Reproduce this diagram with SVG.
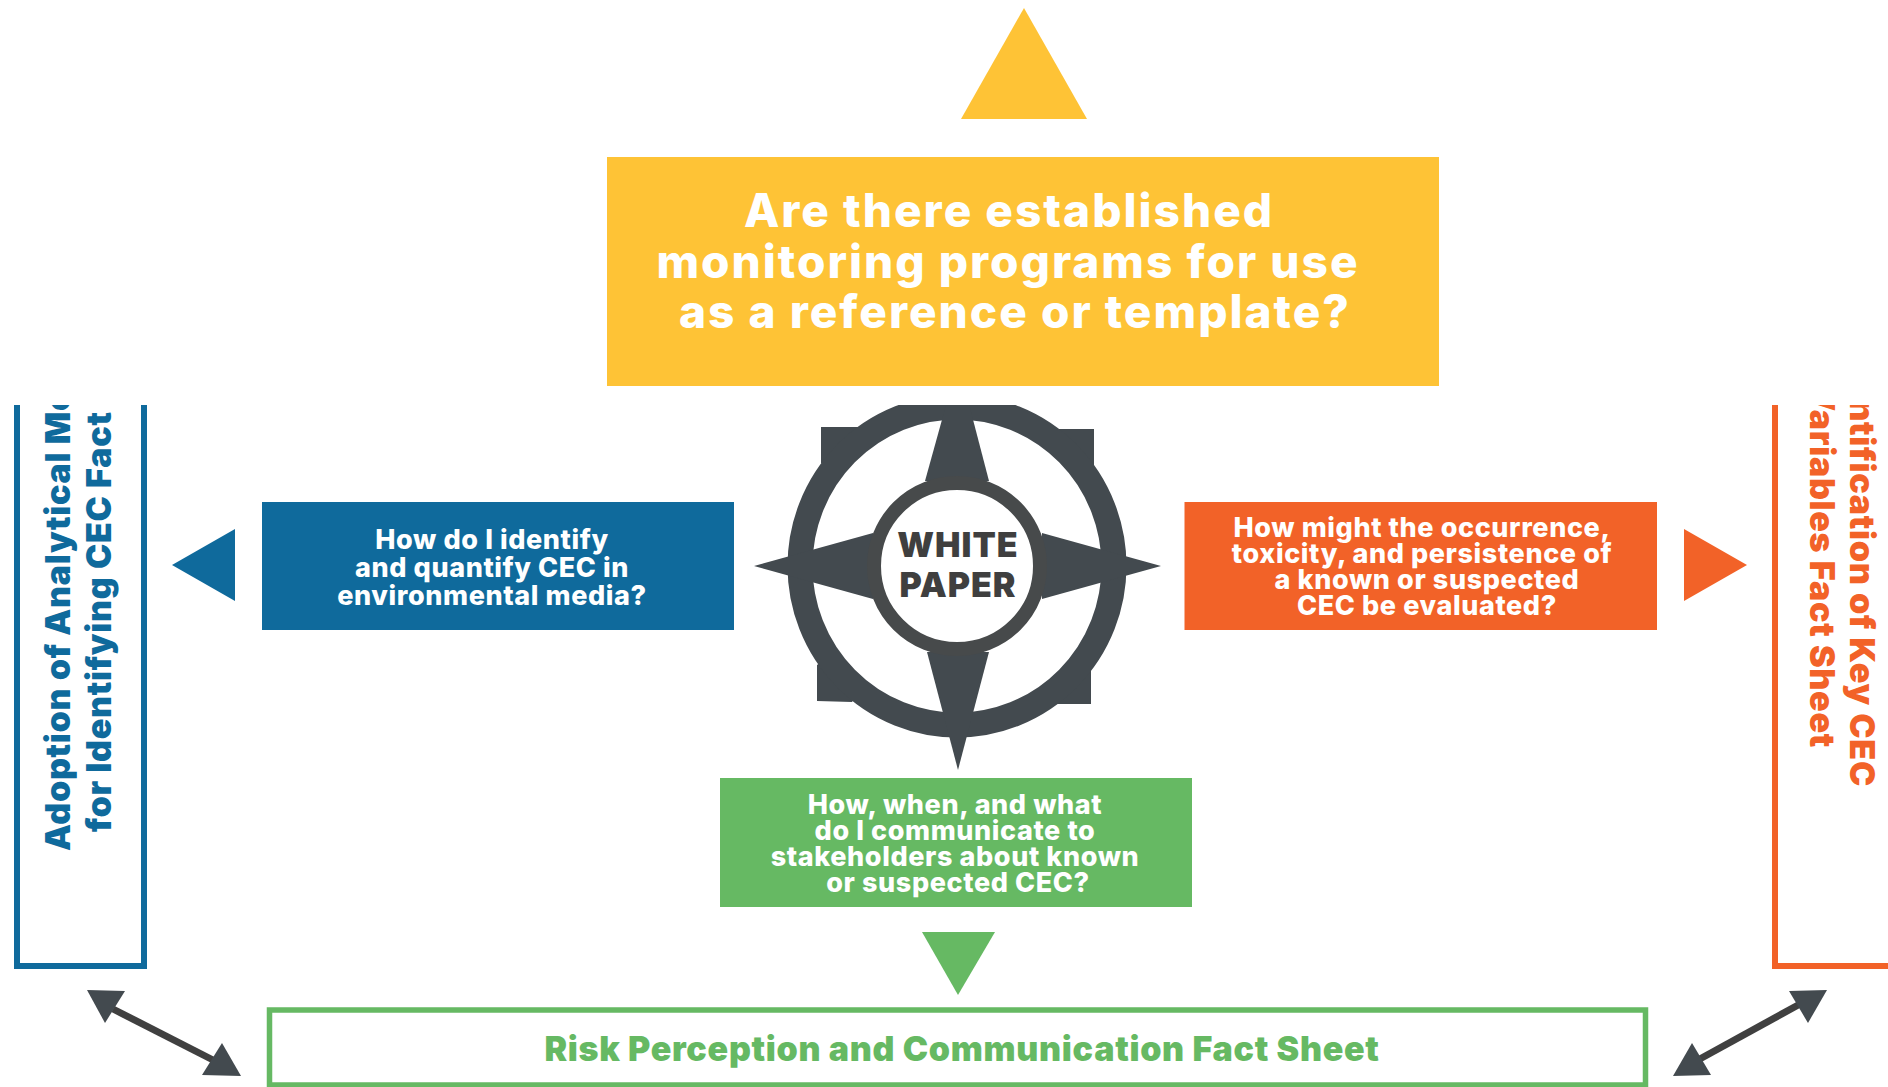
<svg xmlns="http://www.w3.org/2000/svg" width="1888" height="1087" viewBox="0 0 1888 1087">
<style>
text{font-family:Inter,"Liberation Sans",sans-serif;font-weight:800;text-anchor:middle}
.h{fill:#fff;font-size:46px;letter-spacing:2px}
.q{fill:#fff;font-size:27px;letter-spacing:.6px}
.s{font-size:34px;font-weight:900;letter-spacing:.7px}
.d{fill:#434a4f}
.w{fill:#3f3f3f;font-size:34px;font-weight:900;letter-spacing:1px}
</style>
<defs><clipPath id="c"><rect x="0" y="405" width="1888" height="682"/></clipPath></defs>
<rect width="1888" height="1087" fill="#fff"/>
<g id="node-top"><polygon points="1024,8 961,119 1087,119" fill="#fec336"/>
<rect x="607" y="157" width="832" height="229" fill="#fec336"/>
<text class="h" x="1009" y="227">Are there established</text>
<text class="h" x="1008" y="278">monitoring programs for use</text>
<text class="h" x="1015" y="328">as a reference or template?</text></g>
<g id="node-compass" clip-path="url(#c)">
<polygon class="d" points="821,427 858,427 868,441 835,473 821,463"/>
<polygon class="d" points="1059,429 1094,429 1094,466 1080,476 1049,443"/>
<polygon class="d" points="817,665 817,701 852,702 862,688 831,655"/>
<polygon class="d" points="1091,670 1091,704 1057,704 1047,690 1078,660"/>
<ellipse cx="957" cy="566" rx="157" ry="159" fill="none" stroke="#434a4f" stroke-width="25"/>
<polygon class="d" points="754,566 873,533 873,599"/>
<polygon class="d" points="1161,566 1042,533 1042,599"/>
<polygon class="d" points="958,770 927,652 989,652"/>
<polygon class="d" points="958,362 925,481 989,481"/>
<circle cx="957" cy="566" r="83" fill="#fff" stroke="#474a4b" stroke-width="14"/>
<text class="w" x="958" y="557">WHITE</text>
<text class="w" x="958" y="597">PAPER</text></g>
<g id="node-left"><polygon points="172,565 235,529 235,601" fill="#0f6a9c"/>
<rect x="262" y="502" width="472" height="128" fill="#0f6a9c"/>
<text class="q" x="492" y="549">How do I identify</text>
<text class="q" x="492" y="577">and quantify CEC in</text>
<text class="q" x="492" y="605">environmental media?</text></g>
<g id="node-right"><polygon points="1747,565 1684,529 1684,601" fill="#f26228"/>
<rect x="1184.500" y="502" width="472.500" height="128" fill="#f26228"/>
<text class="q" x="1422" y="537">How might the occurrence,</text>
<text class="q" x="1422" y="563">toxicity, and persistence of</text>
<text class="q" x="1427" y="589">a known or suspected</text>
<text class="q" x="1427" y="615">CEC be evaluated?</text></g>
<g id="node-bottom"><polygon points="958,995 922,932 995,932" fill="#66b963"/>
<rect x="720" y="778" width="472" height="129" fill="#66b963"/>
<text class="q" x="955" y="814">How, when, and what</text>
<text class="q" x="955" y="840">do I communicate to</text>
<text class="q" x="955" y="866">stakeholders about known</text>
<text class="q" x="958" y="892">or suspected CEC?</text></g>
<g id="node-sheet-left" clip-path="url(#c)"><path d="M17,405V966H144V405" fill="none" stroke="#0f6a9c" stroke-width="6"/>
<text class="s" fill="#0f6a9c" style="text-anchor:start" transform="translate(70,851) rotate(-90)">Adoption of Analytical Me</text>
<text class="s" fill="#0f6a9c" style="text-anchor:start" transform="translate(111,832) rotate(-90)">for Identifying CEC Fact</text></g>
<g id="node-sheet-right" clip-path="url(#c)"><path d="M1775,405V966H1888" fill="none" stroke="#f26228" stroke-width="6"/>
<text class="s" fill="#f26228" style="text-anchor:end" transform="translate(1850,787) rotate(90)">ntification of Key CEC</text>
<text class="s" fill="#f26228" style="text-anchor:end" transform="translate(1810,748) rotate(90)">Variables Fact Sheet</text></g>
<g id="node-sheet-bottom"><rect x="269.500" y="1010" width="1376" height="75" fill="#fff" stroke="#66b963" stroke-width="5.500"/>
<text class="s" fill="#66b963" x="962" y="1061">Risk Perception and Communication Fact Sheet</text></g>
<g id="connectors">
<line x1="113" y1="1009" x2="213" y2="1060" stroke="#404040" stroke-width="7"/>
<polygon class="d" points="87,990 125,991 105,1023"/>
<polygon class="d" points="222,1043 241,1076 202,1075"/>
<line x1="1698" y1="1060" x2="1800" y2="1004" stroke="#404040" stroke-width="7"/>
<polygon class="d" points="1789,991 1827,990 1808,1023"/>
<polygon class="d" points="1692,1043 1711,1075 1673,1076"/>
</g>
</svg>
